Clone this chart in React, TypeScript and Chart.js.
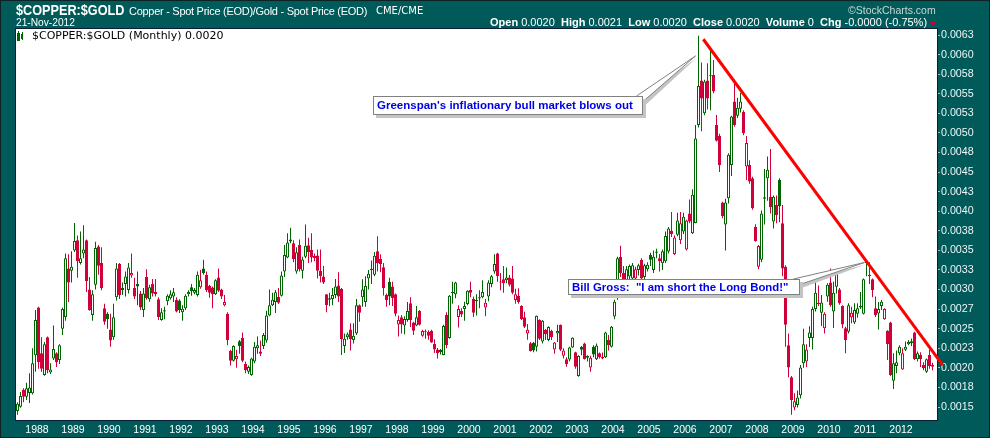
import React, { useEffect, useRef } from 'react';
import { Chart, registerables } from 'chart.js';

Chart.register(...registerables);

// ---- data: monthly $COPPER:$GOLD candles, Jun 1987 .. Nov 2012 ----
const START_YEAR = 1987;
const START_MONTH = 6;

const open = [
  0.001450, 0.001504, 0.001720, 0.001630, 0.001680, 0.001675, 0.002160, 0.002770, 0.002185, 0.001910,
  0.002390, 0.001940, 0.002120, 0.002185, 0.002100, 0.002500, 0.002650, 0.003270, 0.003240, 0.003500,
  0.003630, 0.003340, 0.003460, 0.003630, 0.003000, 0.002675, 0.003060, 0.003550, 0.003340, 0.002760,
  0.002690, 0.002490, 0.002390, 0.002900, 0.003330, 0.002995, 0.003070, 0.002995, 0.003180, 0.003020,
  0.003070, 0.002950, 0.002740, 0.003160, 0.002875, 0.003070, 0.002970, 0.002875, 0.002610, 0.002720,
  0.002850, 0.002890, 0.002910, 0.002870, 0.002860, 0.002710, 0.002760, 0.002940, 0.003030, 0.002960,
  0.002930, 0.003030, 0.003270, 0.003185, 0.003045, 0.003025, 0.002940, 0.003155, 0.003000, 0.002800,
  0.002690, 0.002215, 0.002090, 0.002110, 0.002340, 0.002385, 0.002050, 0.001950, 0.001910, 0.002080,
  0.002250, 0.002210, 0.002280, 0.002350, 0.002670, 0.002800, 0.002840, 0.002905, 0.002920, 0.003230,
  0.003410, 0.003640, 0.003590, 0.003230, 0.003570, 0.003240, 0.003420, 0.003565, 0.003505, 0.003430,
  0.003435, 0.003240, 0.003165, 0.002940, 0.002870, 0.002880, 0.002930, 0.003050, 0.003010, 0.002280,
  0.002390, 0.002490, 0.002355, 0.002440, 0.002800, 0.002900, 0.002840, 0.003140, 0.003265, 0.003190,
  0.003490, 0.003390, 0.003285, 0.002930, 0.003100, 0.003040, 0.002940, 0.002555, 0.002645, 0.002540,
  0.002610, 0.002825, 0.002580, 0.002540, 0.002725, 0.002410, 0.002475, 0.002460, 0.002470, 0.002305,
  0.002235, 0.002230, 0.002165, 0.002675, 0.002380, 0.002955, 0.002940, 0.002650, 0.002730, 0.002750,
  0.002815, 0.002995, 0.002880, 0.002870, 0.002900, 0.002900, 0.002770, 0.002910, 0.003070, 0.003230,
  0.003460, 0.003100, 0.003130, 0.003120, 0.003155, 0.003140, 0.002865, 0.002920, 0.002790, 0.002645,
  0.002440, 0.002315, 0.002320, 0.002270, 0.002610, 0.002335, 0.002485, 0.002355, 0.002470, 0.002235,
  0.002440, 0.002550, 0.002155, 0.002110, 0.002105, 0.002260, 0.002200, 0.001895, 0.002270, 0.002310,
  0.002130, 0.002005, 0.002270, 0.002110, 0.002185, 0.002140, 0.002135, 0.002355, 0.002270, 0.002655,
  0.002910, 0.003420, 0.003210, 0.003100, 0.003165, 0.003140, 0.003140, 0.003250, 0.003380, 0.003160,
  0.003260, 0.003440, 0.003250, 0.003470, 0.003400, 0.003335, 0.003360, 0.003485, 0.003750, 0.003455,
  0.003700, 0.003630, 0.003740, 0.003510, 0.003970, 0.003720, 0.003850, 0.005100, 0.005670, 0.005250,
  0.005670, 0.005740, 0.005740, 0.005100, 0.004960, 0.004110, 0.003830, 0.004165, 0.004590, 0.005400,
  0.005220, 0.005310, 0.005270, 0.004570, 0.004590, 0.004420, 0.003800, 0.003290, 0.003380, 0.004180,
  0.004420, 0.004185, 0.003870, 0.004080, 0.004400, 0.003845, 0.003290, 0.002290, 0.001880, 0.001495,
  0.001525, 0.001650, 0.002060, 0.002080, 0.002380, 0.002380, 0.002750, 0.002815, 0.002705, 0.002505,
  0.002910, 0.003090, 0.002720, 0.003035, 0.003000, 0.002790, 0.002505, 0.002460, 0.002645, 0.002580,
  0.002690, 0.002790, 0.002690, 0.003355, 0.003170, 0.003130, 0.002760, 0.002695, 0.002790, 0.002620,
  0.002475, 0.002580, 0.001835, 0.002025, 0.002185, 0.001980, 0.002230, 0.002300, 0.002315, 0.002450,
  0.002110, 0.002165, 0.002035, 0.001950, 0.002165, 0.002035,
];

const high = [
  0.001560, 0.001690, 0.001740, 0.001810, 0.001930, 0.002250, 0.002740, 0.002780, 0.002390, 0.002330,
  0.002400, 0.002060, 0.002540, 0.002200, 0.002300, 0.002770, 0.003460, 0.003450, 0.003490, 0.003850,
  0.003690, 0.003740, 0.003820, 0.003640, 0.003160, 0.002990, 0.003610, 0.003570, 0.003540, 0.002820,
  0.002710, 0.002690, 0.002820, 0.003340, 0.003340, 0.003090, 0.003230, 0.003340, 0.003460, 0.003150,
  0.003230, 0.002980, 0.003020, 0.003260, 0.003060, 0.003135, 0.003135, 0.002900, 0.002760, 0.002780,
  0.002940, 0.002990, 0.003020, 0.002900, 0.002875, 0.002800, 0.002940, 0.002990, 0.003070, 0.003020,
  0.003230, 0.003250, 0.003380, 0.003230, 0.003060, 0.003040, 0.003130, 0.003270, 0.003010, 0.002930,
  0.002710, 0.002230, 0.002290, 0.002230, 0.002355, 0.002450, 0.002080, 0.002030, 0.002130, 0.002330,
  0.002400, 0.002350, 0.002445, 0.002730, 0.003000, 0.002960, 0.002995, 0.003020, 0.003230, 0.003570,
  0.003720, 0.003790, 0.003630, 0.003540, 0.003640, 0.003420, 0.003830, 0.003660, 0.003720, 0.003460,
  0.003510, 0.003510, 0.003300, 0.002940, 0.002960, 0.003020, 0.003135, 0.003220, 0.003020, 0.002440,
  0.002450, 0.002570, 0.002570, 0.002880, 0.002810, 0.003130, 0.003170, 0.003250, 0.003370, 0.003480,
  0.003680, 0.003450, 0.003340, 0.002950, 0.003150, 0.003100, 0.002950, 0.002670, 0.002675, 0.002660,
  0.002840, 0.002900, 0.002590, 0.002790, 0.002740, 0.002485, 0.002490, 0.002480, 0.002485, 0.002365,
  0.002255, 0.002240, 0.002550, 0.002710, 0.002930, 0.003100, 0.003100, 0.002800, 0.002760, 0.002845,
  0.002990, 0.003100, 0.002910, 0.002940, 0.002990, 0.003120, 0.002880, 0.003120, 0.003185, 0.003450,
  0.003470, 0.003210, 0.003300, 0.003280, 0.003185, 0.003300, 0.003010, 0.003015, 0.002800, 0.002715,
  0.002560, 0.002330, 0.002330, 0.002670, 0.002620, 0.002610, 0.002495, 0.002530, 0.002485, 0.002330,
  0.002550, 0.002555, 0.002250, 0.002135, 0.002270, 0.002390, 0.002205, 0.002160, 0.002280, 0.002320,
  0.002160, 0.002155, 0.002290, 0.002310, 0.002195, 0.002195, 0.002460, 0.002420, 0.002535, 0.002870,
  0.003420, 0.003560, 0.003300, 0.003300, 0.003320, 0.003340, 0.003290, 0.003330, 0.003400, 0.003330,
  0.003350, 0.003470, 0.003500, 0.003520, 0.003455, 0.003510, 0.003740, 0.003800, 0.003990, 0.003690,
  0.003980, 0.003990, 0.003980, 0.003890, 0.004150, 0.004280, 0.005100, 0.006240, 0.005900, 0.005680,
  0.005890, 0.006070, 0.005930, 0.005230, 0.004990, 0.004120, 0.004160, 0.004740, 0.005220, 0.005680,
  0.005450, 0.005510, 0.005290, 0.004960, 0.004650, 0.004440, 0.003835, 0.003570, 0.004010, 0.004540,
  0.004700, 0.004795, 0.004200, 0.004200, 0.004420, 0.004080, 0.003310, 0.002440, 0.001897, 0.001675,
  0.001710, 0.002035, 0.002500, 0.002300, 0.002530, 0.002780, 0.003125, 0.003050, 0.002930, 0.002710,
  0.003080, 0.003270, 0.003100, 0.003230, 0.003020, 0.002800, 0.002525, 0.002825, 0.002780, 0.002825,
  0.002825, 0.002970, 0.003140, 0.003375, 0.003350, 0.003140, 0.002910, 0.002840, 0.002865, 0.002760,
  0.002480, 0.002590, 0.002185, 0.002220, 0.002290, 0.002250, 0.002335, 0.002355, 0.002375, 0.002460,
  0.002210, 0.002200, 0.002070, 0.002120, 0.002230, 0.002065,
];

const low = [
  0.001400, 0.001490, 0.001560, 0.001590, 0.001550, 0.001660, 0.001950, 0.001990, 0.001950, 0.001900,
  0.001930, 0.001920, 0.002100, 0.002010, 0.002050, 0.002420, 0.002600, 0.002840, 0.003090, 0.003480,
  0.003150, 0.003320, 0.003400, 0.002970, 0.002730, 0.002600, 0.003000, 0.003190, 0.002990, 0.002550,
  0.002500, 0.002270, 0.002360, 0.002860, 0.002880, 0.002930, 0.002910, 0.002950, 0.003150, 0.002880,
  0.002800, 0.002740, 0.002650, 0.002870, 0.002845, 0.002910, 0.002910, 0.002610, 0.002600, 0.002620,
  0.002800, 0.002870, 0.002840, 0.002710, 0.002700, 0.002600, 0.002740, 0.002910, 0.002920, 0.002940,
  0.002910, 0.003010, 0.003190, 0.002970, 0.002895, 0.002760, 0.002930, 0.002970, 0.002880, 0.002785,
  0.002290, 0.002030, 0.002080, 0.002000, 0.002180, 0.002070, 0.001930, 0.001920, 0.001900, 0.002060,
  0.002180, 0.002150, 0.002240, 0.002320, 0.002660, 0.002790, 0.002700, 0.002815, 0.002910, 0.003160,
  0.003400, 0.003590, 0.003350, 0.003200, 0.003230, 0.003140, 0.003400, 0.003340, 0.003350, 0.003360,
  0.003140, 0.003090, 0.003070, 0.002710, 0.002790, 0.002800, 0.002890, 0.002840, 0.002165, 0.002190,
  0.002360, 0.002220, 0.002310, 0.002420, 0.002590, 0.002780, 0.002780, 0.003000, 0.003070, 0.003170,
  0.003230, 0.003220, 0.002925, 0.002780, 0.002800, 0.002790, 0.002660, 0.002400, 0.002440, 0.002430,
  0.002590, 0.002520, 0.002420, 0.002530, 0.002540, 0.002397, 0.002370, 0.002360, 0.002320, 0.002190,
  0.002120, 0.002170, 0.002160, 0.002250, 0.002370, 0.002820, 0.002890, 0.002515, 0.002650, 0.002600,
  0.002800, 0.002900, 0.002650, 0.002670, 0.002760, 0.002890, 0.002660, 0.002850, 0.003030, 0.003200,
  0.003100, 0.002990, 0.002960, 0.003080, 0.003040, 0.002940, 0.002820, 0.002820, 0.002610, 0.002510,
  0.002360, 0.002210, 0.002200, 0.002210, 0.002355, 0.002310, 0.002355, 0.002340, 0.002355, 0.002180,
  0.002330, 0.002215, 0.002120, 0.002015, 0.002085, 0.002255, 0.001990, 0.001885, 0.002160, 0.002105,
  0.002080, 0.001950, 0.002135, 0.002100, 0.002120, 0.002110, 0.002125, 0.002220, 0.002260, 0.002620,
  0.002870, 0.003160, 0.003050, 0.003050, 0.003100, 0.003090, 0.003080, 0.003180, 0.003090, 0.003120,
  0.003230, 0.003300, 0.003210, 0.003400, 0.003230, 0.003250, 0.003340, 0.003460, 0.003670, 0.003440,
  0.003680, 0.003580, 0.003710, 0.003500, 0.003845, 0.003710, 0.003845, 0.005070, 0.005020, 0.005225,
  0.005300, 0.005290, 0.005505, 0.004890, 0.004500, 0.003910, 0.003500, 0.004100, 0.004450, 0.005080,
  0.005190, 0.005260, 0.004970, 0.004400, 0.004350, 0.004020, 0.003610, 0.003260, 0.003350, 0.003830,
  0.004135, 0.003970, 0.003780, 0.003845, 0.003860, 0.003170, 0.002270, 0.001880, 0.001400, 0.001460,
  0.001495, 0.001610, 0.002000, 0.002010, 0.002265, 0.002235, 0.002720, 0.002790, 0.002535, 0.002440,
  0.002845, 0.002780, 0.002510, 0.002950, 0.002805, 0.002505, 0.002185, 0.002440, 0.002570, 0.002560,
  0.002640, 0.002750, 0.002680, 0.003170, 0.003070, 0.002900, 0.002650, 0.002490, 0.002740, 0.002615,
  0.002100, 0.001895, 0.001730, 0.001930, 0.002160, 0.001975, 0.002215, 0.002290, 0.002280, 0.002100,
  0.002080, 0.002010, 0.001970, 0.001935, 0.001990, 0.001970,
];

const close = [
  0.001540, 0.001640, 0.001630, 0.001740, 0.001750, 0.002060, 0.002610, 0.002070, 0.001990, 0.002300,
  0.001970, 0.001980, 0.002240, 0.002070, 0.002290, 0.002750, 0.003400, 0.003090, 0.003290, 0.003620,
  0.003360, 0.003400, 0.003510, 0.003110, 0.002740, 0.002940, 0.003530, 0.003305, 0.003020, 0.002590,
  0.002620, 0.002350, 0.002645, 0.003270, 0.002930, 0.003020, 0.003165, 0.003280, 0.003210, 0.002910,
  0.003040, 0.002770, 0.002950, 0.002890, 0.003030, 0.002950, 0.002940, 0.002650, 0.002710, 0.002735,
  0.002920, 0.002940, 0.002965, 0.002720, 0.002740, 0.002755, 0.002920, 0.002970, 0.002980, 0.002995,
  0.003190, 0.003120, 0.003210, 0.002990, 0.002960, 0.002940, 0.003120, 0.002985, 0.002910, 0.002840,
  0.002355, 0.002090, 0.002280, 0.002150, 0.002280, 0.002090, 0.001970, 0.002010, 0.002120, 0.002270,
  0.002290, 0.002180, 0.002420, 0.002670, 0.002800, 0.002870, 0.002965, 0.002830, 0.003180, 0.003440,
  0.003600, 0.003615, 0.003390, 0.003475, 0.003260, 0.003385, 0.003560, 0.003480, 0.003410, 0.003400,
  0.003240, 0.003170, 0.003090, 0.002800, 0.002890, 0.002930, 0.003040, 0.002910, 0.002365, 0.002370,
  0.002430, 0.002365, 0.002410, 0.002800, 0.002705, 0.003000, 0.003045, 0.003200, 0.003250, 0.003430,
  0.003335, 0.003325, 0.003020, 0.002865, 0.002910, 0.002890, 0.002690, 0.002610, 0.002555, 0.002625,
  0.002725, 0.002610, 0.002475, 0.002645, 0.002550, 0.002470, 0.002460, 0.002410, 0.002325, 0.002235,
  0.002185, 0.002200, 0.002535, 0.002290, 0.002920, 0.002960, 0.003090, 0.002750, 0.002680, 0.002790,
  0.002985, 0.002960, 0.002705, 0.002850, 0.002885, 0.002970, 0.002830, 0.003090, 0.003170, 0.003325,
  0.003170, 0.003090, 0.003080, 0.003155, 0.003060, 0.002960, 0.002940, 0.002840, 0.002625, 0.002525,
  0.002485, 0.002215, 0.002220, 0.002665, 0.002370, 0.002600, 0.002430, 0.002520, 0.002390, 0.002325,
  0.002470, 0.002230, 0.002220, 0.002045, 0.002260, 0.002385, 0.002015, 0.002150, 0.002230, 0.002110,
  0.002150, 0.002130, 0.002170, 0.002285, 0.002140, 0.002120, 0.002450, 0.002290, 0.002525, 0.002845,
  0.003400, 0.003210, 0.003130, 0.003260, 0.003300, 0.003310, 0.003260, 0.003310, 0.003140, 0.003310,
  0.003315, 0.003380, 0.003420, 0.003485, 0.003360, 0.003490, 0.003685, 0.003780, 0.003710, 0.003665,
  0.003880, 0.003845, 0.003930, 0.003880, 0.003870, 0.004210, 0.004930, 0.005600, 0.005440, 0.005655,
  0.005440, 0.005730, 0.005530, 0.004900, 0.004590, 0.003940, 0.004110, 0.004720, 0.005210, 0.005100,
  0.005320, 0.005400, 0.004995, 0.004870, 0.004380, 0.004040, 0.003620, 0.003555, 0.003970, 0.004160,
  0.004530, 0.004050, 0.004185, 0.003950, 0.004065, 0.003270, 0.002550, 0.002005, 0.001590, 0.001575,
  0.001620, 0.002005, 0.002300, 0.002235, 0.002450, 0.002750, 0.002960, 0.002830, 0.002835, 0.002690,
  0.003060, 0.002800, 0.002960, 0.003200, 0.002825, 0.002555, 0.002355, 0.002800, 0.002705, 0.002740,
  0.002760, 0.002770, 0.003130, 0.003335, 0.003190, 0.002995, 0.002675, 0.002750, 0.002845, 0.002750,
  0.002305, 0.001910, 0.002060, 0.002070, 0.002270, 0.002185, 0.002270, 0.002330, 0.002340, 0.002110,
  0.002185, 0.002110, 0.001995, 0.002110, 0.002025, 0.002015,
];

const yTickValues = [
  0.0015, 0.00175, 0.002, 0.00225, 0.0025, 0.00275, 0.003, 0.00325, 0.0035, 0.00375,
  0.004, 0.00425, 0.0045, 0.00475, 0.005, 0.00525, 0.0055, 0.00575, 0.006, 0.00625,
];
const yTickLabels = [
  '0.0015', '0.0018', '0.0020', '0.0023', '0.0025', '0.0027', '0.0030', '0.0033', '0.0035', '0.0038',
  '0.0040', '0.0043', '0.0045', '0.0048', '0.0050', '0.0053', '0.0055', '0.0058', '0.0060', '0.0063',
];
const xTickYears = [
  1988, 1989, 1990, 1991, 1992, 1993, 1994, 1995, 1996, 1997, 1998, 1999, 2000,
  2001, 2002, 2003, 2004, 2005, 2006, 2007, 2008, 2009, 2010, 2011, 2012,
];

// red trend line (month index, ratio)
const trendLine = [
  { x: 228.6, y: 0.006196 },
  { x: 308.4, y: 0.002036 },
];

// callouts: tip anchored in data space, box in page space
const callouts = [
  { text: "Greenspan's inflationary bull market blows out", tipX: 226.0, tipY: 0.005983, left: 373, top: 96, width: 270, height: 19, textLeft: 3, textTop: 3.3, size: 11.5 },
  { text: 'Bill Gross:  "I am short the Long Bond!"', tipX: 282.3, tipY: 0.003345, left: 568, top: 279, width: 232, height: 16, textLeft: 3, textTop: 1.9, size: 11.4 },
];

const GREEN = '#006400';
const RED = '#d0003a';
const BG = '#005a5a';

const monthIndex = (year: number, month: number) => (year - START_YEAR) * 12 + (month - START_MONTH);

export default function App() {
  const ref = useRef<HTMLCanvasElement | null>(null);

  useEffect(() => {
    const n = close.length;
    const idx = Array.from({ length: n }, (_, i) => i);
    const colors = idx.map((i) => (i === 0 || close[i] >= close[i - 1] ? GREEN : RED));
    const fills = idx.map((i) => (close[i] < open[i] ? colors[i] : '#ffffff'));

    const framePlugin = {
      id: 'frame',
      beforeDraw(chart: any) {
        const { ctx, chartArea: a } = chart;
        ctx.save();
        ctx.fillStyle = '#ffffff';
        ctx.fillRect(a.left, a.top, a.right - a.left, a.bottom - a.top);
        ctx.restore();
      },
      beforeDatasetsDraw(chart: any) {
        const { ctx, chartArea: a } = chart;
        ctx.save();
        ctx.strokeStyle = '#0b1c36';
        ctx.lineWidth = 1;
        ctx.strokeRect(a.left - 0.5, a.top - 0.5, a.right - a.left + 1, a.bottom - a.top + 1);
        ctx.fillStyle = '#0b1c36';
        ctx.fillRect(a.right, a.top - 1, 1, a.bottom - a.top + 2);
        ctx.restore();
      },
      afterDatasetsDraw(chart: any) {
        const { ctx } = chart;
        const xs = chart.scales.x;
        const ys = chart.scales.y;
        ctx.save();
        callouts.forEach((c) => {
          const tx = xs.getPixelForValue(c.tipX);
          const ty = ys.getPixelForValue(c.tipY);
          const right = c.left + c.width;
          const ax = right - 6.5, ay = c.top;
          const bx = right, by = c.top + 5.5;
          ctx.fillStyle = '#c4c4c4';
          ctx.beginPath();
          ctx.moveTo(ax + 3, ay + 3);
          ctx.lineTo(tx + 1, ty + 2);
          ctx.lineTo(bx + 3, by + 3);
          ctx.closePath();
          ctx.fill();
          ctx.fillStyle = '#ffffff';
          ctx.beginPath();
          ctx.moveTo(ax, ay);
          ctx.lineTo(tx, ty);
          ctx.lineTo(bx, by);
          ctx.closePath();
          ctx.fill();
          ctx.strokeStyle = '#808080';
          ctx.lineWidth = 1;
          ctx.beginPath();
          ctx.moveTo(ax, ay);
          ctx.lineTo(tx, ty);
          ctx.lineTo(bx, by);
          ctx.stroke();
        });
        ctx.restore();
      },
    };

    const chart = new Chart(ref.current as HTMLCanvasElement, {
      type: 'bar',
      data: {
        datasets: [
          {
            type: 'line',
            label: 'trend',
            data: trendLine,
            borderColor: '#ff0000',
            borderWidth: 3,
            pointRadius: 0,
            clip: false,
            order: 1,
          } as any,
          {
            type: 'bar',
            label: 'body',
            data: idx.map((i) => ({ x: i, y: [open[i], close[i]] })),
            backgroundColor: fills,
            borderColor: colors,
            borderWidth: 1,
            borderSkipped: false,
            barThickness: 3,
            minBarLength: 1,
            grouped: false,
            inflateAmount: 0,
            order: 2,
          } as any,
          {
            type: 'bar',
            label: 'wick',
            data: idx.map((i) => ({ x: i, y: [low[i], high[i]] })),
            backgroundColor: colors,
            borderWidth: 0,
            barThickness: 1,
            grouped: false,
            inflateAmount: 0,
            order: 3,
          } as any,
        ],
      },
      options: {
        responsive: false,
        maintainAspectRatio: false,
        animation: false,
        events: [],
        layout: { padding: { left: 16, top: 29, right: 0, bottom: 0 } },
        plugins: { legend: { display: false }, title: { display: false }, tooltip: { enabled: false } },
        scales: {
          x: {
            type: 'linear',
            position: 'bottom',
            offset: false,
            min: -0.5,
            max: 306.5,
            afterFit: (s: any) => { s.height = 18; },
            afterBuildTicks: (s: any) => {
              s.ticks = xTickYears.map((y) => ({ value: monthIndex(y, 1) - 0.5 }));
            },
            ticks: {
              autoSkip: false,
              maxRotation: 0,
              padding: 4,
              color: '#ffffff',
              font: { family: '"Liberation Sans", Arial, sans-serif', size: 10.5 },
              callback: (_v: any, index: number) => String(xTickYears[index]),
            },
            grid: { display: false, drawTicks: false, offset: false },
            border: { display: false },
          },
          y: {
            type: 'linear',
            position: 'right',
            min: 0.001334,
            max: 0.006327,
            afterFit: (s: any) => { s.width = 53; },
            afterBuildTicks: (s: any) => {
              s.ticks = yTickValues.map((v) => ({ value: v }));
            },
            ticks: {
              padding: 1,
              color: '#eef4f4',
              font: { family: '"Liberation Sans", Arial, sans-serif', size: 10.7 },
              callback: (_v: any, index: number) => yTickLabels[index],
            },
            grid: { drawOnChartArea: false, drawTicks: true, tickLength: 3, tickColor: '#a9bcbc', color: '#a9bcbc' },
            border: { display: false },
          },
        },
      } as any,
      plugins: [framePlugin],
    });
    return () => chart.destroy();
  }, []);

  const sans = '"Liberation Sans", Arial, sans-serif';
  const txt = (extra: React.CSSProperties): React.CSSProperties => ({
    position: 'absolute',
    whiteSpace: 'pre',
    color: '#ffffff',
    fontFamily: sans,
    ...extra,
  });

  return (
    <div
      style={{
        position: 'fixed',
        left: 0,
        top: 0,
        width: 990,
        height: 438,
        background: BG,
        overflow: 'hidden',
      }}
    >
      <canvas ref={ref} width={990} height={438} style={{ position: 'absolute', left: 0, top: 0 }} />

      {/* header */}
      <div style={txt({ left: 16, top: 2.3, fontSize: 15, lineHeight: '15px', fontWeight: 700, transform: 'scaleX(0.845)', transformOrigin: 'left top' })}>
        $COPPER:$GOLD
      </div>
      <div style={txt({ left: 129, top: 5.7, fontSize: 11, lineHeight: '11px', letterSpacing: '-0.28px' })}>
        Copper - Spot Price (EOD)/Gold - Spot Price (EOD)
      </div>
      <div style={txt({ left: 376, top: 5.6, fontSize: 10, lineHeight: '10px', fontFamily: '"DejaVu Sans", Verdana, sans-serif' })}>
        CME/CME
      </div>
      <div style={txt({ left: 16, top: 18.2, fontSize: 10.2, lineHeight: '10.2px' })}>21-Nov-2012</div>
      <div style={txt({ left: 848, top: 5, fontSize: 10.5, lineHeight: '10.5px', color: '#c9d6d6' })}>©StockCharts.com</div>
      <div style={txt({ left: 490, top: 17.4, fontSize: 11, lineHeight: '11px' })}>
        <b>Open</b> 0.0020  <b>High</b> 0.0021  <b>Low</b> 0.0020  <b>Close</b> 0.0020  <b>Volume</b> 0  <b>Chg</b> -0.0000 (-0.75%)
      </div>
      <div
        style={{
          position: 'absolute',
          left: 930,
          top: 21.5,
          width: 0,
          height: 0,
          borderLeft: '3.5px solid transparent',
          borderRight: '3.5px solid transparent',
          borderTop: '4px solid #d0003a',
        }}
      />

      {/* in-plot legend */}
      <div style={{ position: 'absolute', left: 17, top: 33, width: 1, height: 6, border: `1px solid ${GREEN}`, background: '#fff' }} />
      <div style={{ position: 'absolute', left: 18, top: 31, width: 1, height: 10, background: GREEN }} />
      <div style={{ position: 'absolute', left: 21, top: 34, width: 2, height: 5, background: GREEN }} />
      <div style={{ position: 'absolute', left: 21.5, top: 32, width: 1, height: 8, background: GREEN }} />
      <div style={txt({ left: 32, top: 29.7, fontSize: 11, lineHeight: '11px', color: '#000000', fontFamily: '"DejaVu Sans", Verdana, sans-serif' })}>
        $COPPER:$GOLD (Monthly) 0.0020
      </div>

      {/* callout boxes */}
      {callouts.map((c, k) => (
        <div
          key={k}
          style={{
            position: 'absolute',
            left: c.left,
            top: c.top,
            width: c.width,
            height: c.height,
            boxSizing: 'border-box',
            border: '1px solid #808080',
            background: '#ffffff',
            boxShadow: '3px 3px 0 #c4c4c4',
          }}
        >
          <div
            style={{
              position: 'absolute',
              left: c.textLeft,
              top: c.textTop,
              whiteSpace: 'pre',
              fontFamily: sans,
              fontWeight: 700,
              fontSize: c.size,
              lineHeight: `${c.size}px`,
              color: '#0000e6',
            }}
          >
            {c.text}
          </div>
        </div>
      ))}

      {/* outer frame */}
      <div
        style={{
          position: 'absolute',
          left: 0,
          top: 0,
          width: 990,
          height: 438,
          boxSizing: 'border-box',
          border: '1px solid #0d2222',
          pointerEvents: 'none',
        }}
      />
    </div>
  );
}
